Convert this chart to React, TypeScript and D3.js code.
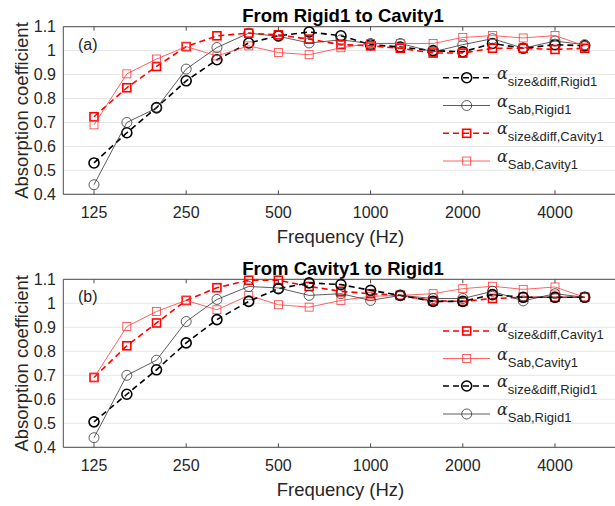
import * as d3 from "d3";

const freqs = [125, 160, 200, 250, 315, 400, 500, 630, 800, 1000, 1250, 1600, 2000, 2500, 3150, 4000, 5000];
const xTicks = [125, 250, 500, 1000, 2000, 4000];
const yTicks = [0.4, 0.5, 0.6, 0.7, 0.8, 0.9, 1, 1.1];

// (a) From Rigid1 to Cavity1
const aSizeRigid = [0.531, 0.657, 0.762, 0.874, 0.962, 1.032, 1.062, 1.078, 1.062, 1.025, 1.015, 1.0, 0.995, 1.03, 1.01, 1.025, 1.02];
const aSabRigid = [0.44, 0.70, 0.76, 0.923, 1.013, 1.073, 1.06, 1.032, 1.045, 1.03, 1.03, 0.995, 1.025, 1.05, 1.01, 1.04, 1.025];
const aSizeCav = [0.724, 0.845, 0.934, 1.017, 1.062, 1.073, 1.066, 1.048, 1.025, 1.02, 1.01, 0.99, 0.99, 1.01, 1.01, 1.005, 1.01];
const aSabCav = [0.69, 0.903, 0.965, 1.017, 0.978, 1.02, 0.992, 0.983, 1.012, 1.03, 1.03, 1.03, 1.055, 1.063, 1.053, 1.063, 1.02];

// (b) From Cavity1 to Rigid1
const bSizeCav = [0.691, 0.823, 0.918, 1.012, 1.065, 1.096, 1.096, 1.07, 1.05, 1.04, 1.033, 1.01, 1.008, 1.02, 1.025, 1.025, 1.025];
const bSabCav = [0.69, 0.903, 0.966, 1.012, 0.973, 1.033, 0.994, 0.984, 1.012, 1.029, 1.033, 1.04, 1.061, 1.071, 1.058, 1.068, 1.025];
const bSizeRigid = [0.506, 0.621, 0.723, 0.835, 0.932, 1.008, 1.061, 1.085, 1.078, 1.054, 1.033, 1.008, 1.008, 1.036, 1.025, 1.025, 1.025];
const bSabRigid = [0.44, 0.70, 0.763, 0.924, 1.016, 1.07, 1.064, 1.033, 1.04, 1.012, 1.033, 1.02, 1.02, 1.05, 1.01, 1.04, 1.025];

type Series = { sub: string; values: number[]; kind: "sizeR" | "sabR" | "sizeC" | "sabC" };

const styles = {
  sizeR: { color: "#000", width: 1.6, dash: "6,4", marker: "circle", mw: 1.6 },
  sabR: { color: "#333", width: 0.8, dash: null, marker: "circle", mw: 0.8 },
  sizeC: { color: "#ff0000", width: 1.6, dash: "6,4", marker: "square", mw: 1.6 },
  sabC: { color: "#ff3b3b", width: 0.8, dash: null, marker: "square", mw: 0.8 },
} as const;

const panelA: Series[] = [
  { sub: "size&diff,Rigid1", values: aSizeRigid, kind: "sizeR" },
  { sub: "Sab,Rigid1", values: aSabRigid, kind: "sabR" },
  { sub: "size&diff,Cavity1", values: aSizeCav, kind: "sizeC" },
  { sub: "Sab,Cavity1", values: aSabCav, kind: "sabC" },
];
const panelB: Series[] = [
  { sub: "size&diff,Cavity1", values: bSizeCav, kind: "sizeC" },
  { sub: "Sab,Cavity1", values: bSabCav, kind: "sabC" },
  { sub: "size&diff,Rigid1", values: bSizeRigid, kind: "sizeR" },
  { sub: "Sab,Rigid1", values: bSabRigid, kind: "sabR" },
];

const x = d3.scaleLog().domain([125, 4000]).range([94, 555]);
const left = 63.3;
const right = 640;
const font = "Liberation Sans, Arial, sans-serif";

function Marker({ kind, cx, cy }: { kind: Series["kind"]; cx: number; cy: number }) {
  const s = styles[kind];
  if (s.marker === "circle")
    return <circle cx={cx} cy={cy} r={5} fill="none" stroke={s.color} strokeWidth={s.mw} />;
  return <rect x={cx - 4} y={cy - 4} width={8} height={8} fill="none" stroke={s.color} strokeWidth={s.mw} />;
}

function Panel({ top, bottom, title, tag, series, legendY }: {
  top: number; bottom: number; title: string; tag: string; series: Series[]; legendY: number[];
}) {
  const y = d3.scaleLinear().domain([0.4, 1.1]).range([bottom, top]);
  const line = d3.line<number>().x((_, i) => x(freqs[i])).y((d) => y(d));
  return (
    <g fontFamily={font}>
      <text x={343} y={top - 4.5} textAnchor="middle" fontWeight="bold" fontSize={18.5}>{title}</text>
      {yTicks.map((t) => (
        <line key={t} x1={left} x2={right} y1={y(t)} y2={y(t)} stroke="#e6e6e6" strokeWidth={1} />
      ))}
      {yTicks.map((t) => (
        <text key={"l" + t} x={56} y={y(t) + 5.5} textAnchor="end" fontSize={16} fill="#262626">{t}</text>
      ))}
      {xTicks.map((t) => (
        <g key={t}>
          <line x1={x(t)} x2={x(t)} y1={bottom} y2={bottom - 4} stroke="#4d4d4d" />
          <line x1={x(t)} x2={x(t)} y1={top} y2={top + 4} stroke="#4d4d4d" />
          <text x={x(t)} y={bottom + 24} textAnchor="middle" fontSize={16} fill="#262626">{t}</text>
        </g>
      ))}
      <line x1={left} x2={right} y1={top} y2={top} stroke="#4d4d4d" />
      <line x1={left} x2={right} y1={bottom} y2={bottom} stroke="#4d4d4d" />
      <line x1={left} x2={left} y1={top} y2={bottom} stroke="#4d4d4d" />
      <text x={78} y={top + 23} fontSize={16} fill="#262626">{tag}</text>
      {series.map((s) => {
        const st = styles[s.kind];
        return (
          <g key={s.kind}>
            <path d={line(s.values) ?? ""} fill="none" stroke={st.color} strokeWidth={st.width}
              strokeDasharray={st.dash ?? undefined} />
            {s.values.map((v, i) => <Marker key={i} kind={s.kind} cx={x(freqs[i])} cy={y(v)} />)}
          </g>
        );
      })}
      {series.map((s, i) => {
        const st = styles[s.kind];
        const ly = legendY[i];
        return (
          <g key={"lg" + s.kind}>
            <line x1={443} x2={490} y1={ly} y2={ly} stroke={st.color} strokeWidth={st.width}
              strokeDasharray={st.dash ?? undefined} />
            <Marker kind={s.kind} cx={466.7} cy={ly} />
            <text x={497} y={ly + 1} fontSize={16} fill="#262626">
              <tspan fontFamily="DejaVu Serif, serif" fontStyle="italic">α</tspan>
              <tspan fontSize={13} dy={7}>{s.sub}</tspan>
            </text>
          </g>
        );
      })}
      <text x={340.5} y={bottom + 49} textAnchor="middle" fontSize={18.5} fill="#262626">Frequency (Hz)</text>
      <text transform={`translate(27.5,${(top + bottom) / 2}) rotate(-90)`} textAnchor="middle" fontSize={18.5}
        fill="#262626">Absorption coefficient</text>
    </g>
  );
}

export default function App() {
  return (
    <svg width={615} height={506} viewBox="0 0 615 506"
      style={{ position: "absolute", left: 0, top: 0, background: "#fff" }}>
      <rect width={615} height={506} fill="#fff" />
      <Panel top={26.7} bottom={194.3} title="From Rigid1 to Cavity1" tag="(a)" series={panelA}
        legendY={[77.7, 105.5, 133.3, 161]} />
      <Panel top={279.3} bottom={447.3} title="From Cavity1 to Rigid1" tag="(b)" series={panelB}
        legendY={[331, 358.5, 386, 414]} />
    </svg>
  );
}
